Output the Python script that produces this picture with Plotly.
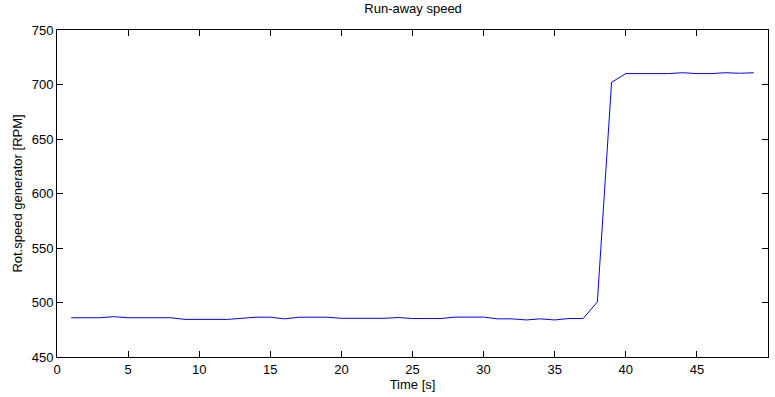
import plotly.graph_objects as go

time_s = list(range(1, 50))
rpm = [486, 486, 486, 487, 486, 486, 486, 486, 484.5, 484.5,
       484.5, 484.5, 485.5, 486.5, 486.5, 485, 486.5, 486.5, 486.5, 485.5,
       485.5, 485.5, 485.5, 486.2, 485.3, 485.3, 485.3, 486.6, 486.6, 486.6,
       485, 485, 484, 485, 484, 485.3, 485.3, 500.5, 702, 710,
       710, 710, 710, 710.8, 710, 710, 710.8, 710.3, 710.8]

x_ticks = list(range(0, 51, 5))
y_ticks = list(range(450, 751, 50))

FONT = "Liberation Sans, Arial, sans-serif"

fig = go.Figure()
fig.add_trace(go.Scatter(x=time_s, y=rpm, mode="lines",
                         line=dict(color="#0000ff", width=1), showlegend=False))

axis_common = dict(showgrid=False, zeroline=False, showline=True, linecolor="black",
                   linewidth=1, mirror="ticks", ticks="inside", ticklen=6,
                   tickcolor="black", tickfont=dict(family=FONT, size=13, color="black"))

fig.update_layout(
    width=775, height=397,
    margin=dict(l=57, r=7, t=30, b=40),
    paper_bgcolor="white", plot_bgcolor="white",
    font=dict(family=FONT, size=13, color="black"),
    title=dict(text="Run-away speed", x=0.533, xanchor="center", y=1 - 8/397,
               yanchor="middle", font=dict(family=FONT, size=13, color="black")),
    xaxis=dict(range=[0, 50], tickvals=x_ticks, **axis_common,
               title=dict(text="Time [s]", standoff=4, font=dict(family=FONT, size=13))),
    yaxis=dict(range=[450, 750], tickvals=y_ticks, **axis_common,
               title=dict(text="Rot.speed generator [RPM]", standoff=6, font=dict(family=FONT, size=13))),
)

fig.write_html("out.html")
